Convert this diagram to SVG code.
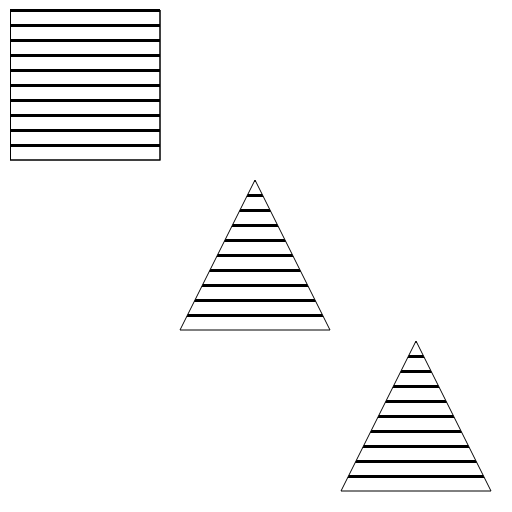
<svg xmlns="http://www.w3.org/2000/svg" width="512" height="512" viewBox="0 0 512 512">
  <style>
    .shape { stroke: #000; stroke-width: 1; }
  </style>
  <defs>
    <pattern id="stripesA" patternUnits="userSpaceOnUse" x="0" y="9" width="512" height="15">
      <rect x="0" y="0" width="512" height="3" fill="#000"/>
    </pattern>
    <pattern id="stripesB" patternUnits="userSpaceOnUse" x="0" y="194" width="512" height="15">
      <rect x="0" y="0" width="512" height="3" fill="#000"/>
    </pattern>
    <pattern id="stripesC" patternUnits="userSpaceOnUse" x="0" y="355" width="512" height="15">
      <rect x="0" y="0" width="512" height="3" fill="#000"/>
    </pattern>
    <clipPath id="clipB"><polygon points="255,180 180,330 330,330"/></clipPath>
    <clipPath id="clipC"><polygon points="416,341 341,491 491,491"/></clipPath>
  </defs>
  <rect width="512" height="512" fill="#fff"/>
  <g id="square">
    <rect x="10.5" y="10.5" width="149.5" height="149.5" fill="#fff" class="shape"/>
    <rect x="10" y="9" width="150" height="149" fill="url(#stripesA)"/>
    <rect x="10.5" y="10.5" width="149.5" height="149.5" fill="none" class="shape"/>
  </g>
  <g id="triangle1">
    <polygon points="255,180 180,330 330,330" fill="#fff"/>
    <rect x="180" y="180" width="150" height="140" fill="url(#stripesB)" clip-path="url(#clipB)"/>
    <polygon points="255,180 180,330 330,330" fill="none" class="shape"/>
  </g>
  <g id="triangle2">
    <polygon points="416,341 341,491 491,491" fill="#fff"/>
    <rect x="341" y="341" width="150" height="140" fill="url(#stripesC)" clip-path="url(#clipC)"/>
    <polygon points="416,341 341,491 491,491" fill="none" class="shape"/>
  </g>
</svg>
